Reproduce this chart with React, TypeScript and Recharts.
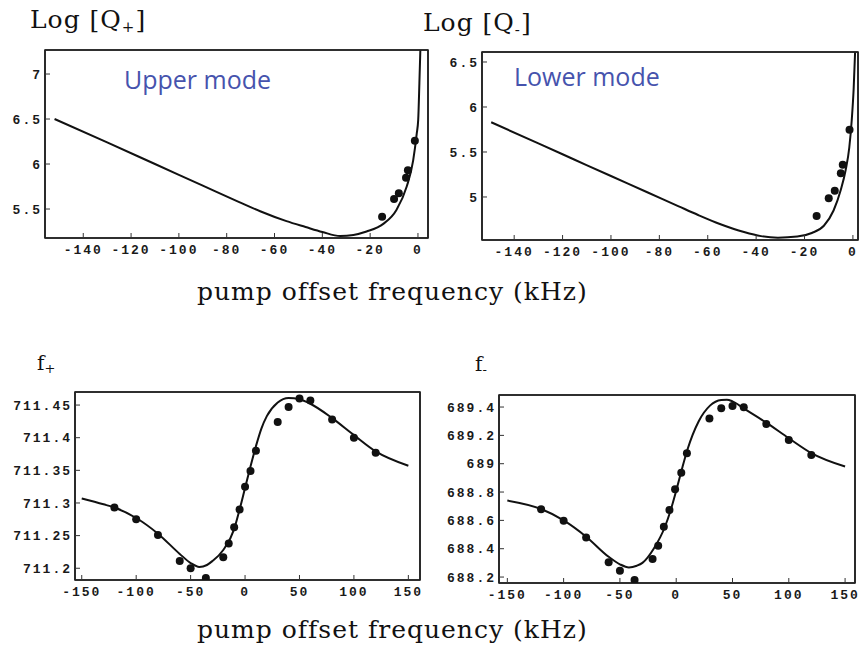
import { ComposedChart, Line, Scatter, XAxis, YAxis, ReferenceArea } from "recharts";

// ---- Log[Q+] (upper mode) ----
const QUP_X_TICKS = [-140, -120, -100, -80, -60, -40, -20, 0];
const QUP_Y_TICKS = [5.5, 6, 6.5, 7];
const QUP_FIT = [
  { x: -152, y: 6.5 }, { x: -130, y: 6.24 }, { x: -110, y: 6.0 }, { x: -90, y: 5.76 },
  { x: -75, y: 5.58 }, { x: -66, y: 5.475 }, { x: -55, y: 5.365 }, { x: -47, y: 5.3 },
  { x: -40, y: 5.245 }, { x: -32.5, y: 5.2 }, { x: -27, y: 5.212 }, { x: -21.5, y: 5.25 },
  { x: -14.5, y: 5.335 }, { x: -9, y: 5.49 }, { x: -4.7, y: 5.75 }, { x: -2, y: 6.04 },
  { x: -0.5, y: 6.34 }, { x: 0.1, y: 6.49 }, { x: 0.6, y: 6.9 }, { x: 1.0, y: 7.267 },
];
const QUP_PTS = [
  { x: -15, y: 5.414 }, { x: -10, y: 5.611 }, { x: -8, y: 5.674 },
  { x: -5, y: 5.848 }, { x: -4.2, y: 5.93 }, { x: -1.3, y: 6.258 },
];

// ---- Log[Q-] (lower mode) ----
const QLO_X_TICKS = [-140, -120, -100, -80, -60, -40, -20, 0];
const QLO_Y_TICKS = [5, 5.5, 6, 6.5];
const QLO_FIT = [
  { x: -149.5, y: 5.83 }, { x: -130, y: 5.595 }, { x: -115, y: 5.414 }, { x: -100, y: 5.233 },
  { x: -85, y: 5.053 }, { x: -72, y: 4.896 }, { x: -64, y: 4.8 }, { x: -55, y: 4.7 },
  { x: -45, y: 4.61 }, { x: -38, y: 4.565 }, { x: -31, y: 4.548 }, { x: -23, y: 4.56 },
  { x: -17, y: 4.6 }, { x: -12, y: 4.68 }, { x: -8, y: 4.85 }, { x: -5, y: 5.08 },
  { x: -3, y: 5.3 }, { x: -1.5, y: 5.55 }, { x: -0.5, y: 5.85 }, { x: 0.3, y: 6.2 },
  { x: 0.9, y: 6.61 },
];
const QLO_PTS = [
  { x: -15, y: 4.789 }, { x: -10, y: 4.986 }, { x: -7.5, y: 5.07 },
  { x: -5, y: 5.263 }, { x: -4.2, y: 5.359 }, { x: -1.4, y: 5.748 },
];

// ---- f+ ----
const FUP_X_TICKS = [-150, -100, -50, 0, 50, 100, 150];
const FUP_Y_TICKS = [711.2, 711.25, 711.3, 711.35, 711.4, 711.45];
const FUP_FIT = [
  { x: -150, y: 711.307 }, { x: -130, y: 711.298 }, { x: -120, y: 711.293 }, { x: -100, y: 711.277 },
  { x: -80, y: 711.253 }, { x: -60, y: 711.222 }, { x: -50, y: 711.208 }, { x: -42, y: 711.202 },
  { x: -35, y: 711.205 }, { x: -30, y: 711.211 }, { x: -20, y: 711.228 }, { x: -10, y: 711.26 },
  { x: -5, y: 711.29 }, { x: 0, y: 711.323 }, { x: 5, y: 711.356 }, { x: 10, y: 711.387 },
  { x: 15, y: 711.414 }, { x: 20, y: 711.433 }, { x: 30, y: 711.454 }, { x: 40, y: 711.461 },
  { x: 50, y: 711.459 }, { x: 60, y: 711.452 }, { x: 80, y: 711.43 }, { x: 100, y: 711.404 },
  { x: 120, y: 711.379 }, { x: 150, y: 711.357 },
];
const FUP_PTS = [
  { x: -120, y: 711.293 }, { x: -100, y: 711.275 }, { x: -80, y: 711.251 }, { x: -60, y: 711.211 },
  { x: -50, y: 711.2 }, { x: -36, y: 711.185 }, { x: -20, y: 711.217 }, { x: -15, y: 711.238 },
  { x: -10, y: 711.263 }, { x: -5, y: 711.29 }, { x: 0, y: 711.325 }, { x: 5, y: 711.349 },
  { x: 10, y: 711.38 }, { x: 30, y: 711.424 }, { x: 40, y: 711.447 }, { x: 50, y: 711.46 },
  { x: 60, y: 711.457 }, { x: 80, y: 711.428 }, { x: 100, y: 711.4 }, { x: 120, y: 711.377 },
];

// ---- f- ----
const FLO_X_TICKS = [-150, -100, -50, 0, 50, 100, 150];
const FLO_Y_TICKS = [688.2, 688.4, 688.6, 688.8, 689, 689.2, 689.4];
const FLO_FIT = [
  { x: -150, y: 688.74 }, { x: -120, y: 688.68 }, { x: -100, y: 688.6 }, { x: -80, y: 688.485 },
  { x: -60, y: 688.343 }, { x: -50, y: 688.29 }, { x: -42, y: 688.268 }, { x: -35, y: 688.28 },
  { x: -30, y: 688.3 }, { x: -20, y: 688.4 }, { x: -10, y: 688.555 }, { x: -5, y: 688.67 },
  { x: 0, y: 688.81 }, { x: 5, y: 688.96 }, { x: 10, y: 689.1 }, { x: 20, y: 689.3 },
  { x: 30, y: 689.41 }, { x: 40, y: 689.45 }, { x: 45, y: 689.452 }, { x: 50, y: 689.44 },
  { x: 60, y: 689.39 }, { x: 80, y: 689.29 }, { x: 100, y: 689.18 }, { x: 120, y: 689.075 },
  { x: 150, y: 688.98 },
];
const FLO_PTS = [
  { x: -120, y: 688.678 }, { x: -100, y: 688.598 }, { x: -80, y: 688.48 }, { x: -60, y: 688.304 },
  { x: -50, y: 688.245 }, { x: -37, y: 688.179 }, { x: -21, y: 688.327 }, { x: -16, y: 688.421 },
  { x: -11, y: 688.555 }, { x: -6, y: 688.673 }, { x: -1, y: 688.819 }, { x: 4.5, y: 688.936 },
  { x: 9.5, y: 689.073 }, { x: 29.5, y: 689.32 }, { x: 40, y: 689.391 }, { x: 50, y: 689.407 },
  { x: 60, y: 689.398 }, { x: 80, y: 689.28 }, { x: 100, y: 689.167 }, { x: 120, y: 689.061 },
];

// minor frame ticks (top and right edges)
const Q_MINOR_X = [
  -155, -150, -145, -140, -135, -130, -125, -120, -115, -110, -105, -100, -95, -90, -85, -80,
  -75, -70, -65, -60, -55, -50, -45, -40, -35, -30, -25, -20, -15, -10, -5, 0,
];
const QUP_MINOR_Y = [5.2, 5.3, 5.4, 5.5, 5.6, 5.7, 5.8, 5.9, 6, 6.1, 6.2, 6.3, 6.4, 6.5, 6.6, 6.7, 6.8, 6.9, 7, 7.1, 7.2];
const QLO_MINOR_Y = [4.6, 4.7, 4.8, 4.9, 5, 5.1, 5.2, 5.3, 5.4, 5.5, 5.6, 5.7, 5.8, 5.9, 6, 6.1, 6.2, 6.3, 6.4, 6.5, 6.6];
const F_MINOR_X = [
  -150, -140, -130, -120, -110, -100, -90, -80, -70, -60, -50, -40, -30, -20, -10, 0,
  10, 20, 30, 40, 50, 60, 70, 80, 90, 100, 110, 120, 130, 140, 150,
];
const FUP_MINOR_Y = [
  711.19, 711.2, 711.21, 711.22, 711.23, 711.24, 711.25, 711.26, 711.27, 711.28, 711.29, 711.3, 711.31, 711.32,
  711.33, 711.34, 711.35, 711.36, 711.37, 711.38, 711.39, 711.4, 711.41, 711.42, 711.43, 711.44, 711.45, 711.46,
];
const FLO_MINOR_Y = [
  688.2, 688.25, 688.3, 688.35, 688.4, 688.45, 688.5, 688.55, 688.6, 688.65, 688.7, 688.75, 688.8,
  688.85, 688.9, 688.95, 689, 689.05, 689.1, 689.15, 689.2, 689.25, 689.3, 689.35, 689.4, 689.45,
];

const TICK = {
  fontSize: 13,
  fontFamily: "Liberation Mono",
  fontWeight: 700,
  fill: "#1a1a1a",
  letterSpacing: 2,
};
const FRAME = { stroke: "#222", strokeWidth: 1.6 };
const TICKLINE = { stroke: "#333", strokeWidth: 1 };

type Pt = { x: number; y: number };
type PanelProps = {
  left: number; top: number; width: number; height: number;
  yWidth: number; mRight: number;
  xDomain: [number, number]; yDomain: [number, number];
  xTicks: number[]; yTicks: number[];
  xMinor: number[]; yMinor: number[];
  fit: Pt[]; pts: Pt[];
};

const Dot = (props: any) => <circle cx={props.cx} cy={props.cy} r={4} fill="#111" />;

function Panel(p: PanelProps) {
  return (
    <div style={{ position: "absolute", left: p.left, top: p.top }}>
      <ComposedChart width={p.width} height={p.height} margin={{ top: 10, right: p.mRight, bottom: 0, left: 0 }}>
        <XAxis dataKey="x" type="number" domain={p.xDomain} ticks={p.xTicks} allowDataOverflow interval={0}
          height={30} tick={TICK} tickSize={-5} tickMargin={12} tickLine={TICKLINE} axisLine={FRAME} />
        <XAxis xAxisId="top" dataKey="x" orientation="top" type="number" domain={p.xDomain} ticks={p.xMinor}
          allowDataOverflow interval={0} height={1} tick={false} tickSize={-3} tickLine={TICKLINE} axisLine={FRAME} />
        <YAxis dataKey="y" type="number" domain={p.yDomain} ticks={p.yTicks} allowDataOverflow interval={0}
          width={p.yWidth} tick={TICK} tickSize={-5} tickMargin={8} tickLine={TICKLINE} axisLine={FRAME} />
        <YAxis yAxisId="right" dataKey="y" orientation="right" type="number" domain={p.yDomain} ticks={p.yMinor}
          allowDataOverflow interval={0} width={1} tick={false} tickSize={-3} tickLine={TICKLINE} axisLine={FRAME} />
        <ReferenceArea x1={p.xDomain[0]} x2={p.xDomain[1]} y1={p.yDomain[0]} y2={p.yDomain[1]}
          fill="none" stroke="#222" strokeWidth={1.6} ifOverflow="visible" />
        {/* invisible series so the top/right frame axes get drawn */}
        <Line xAxisId="top" yAxisId="right" data={p.fit} dataKey="y" stroke="#fff" strokeOpacity={0}
          strokeWidth={0} dot={false} activeDot={false} legendType="none" isAnimationActive={false} />
        <Line data={p.fit} dataKey="y" type="monotone" stroke="#111" strokeWidth={2} dot={false}
          activeDot={false} isAnimationActive={false} />
        <Scatter data={p.pts} dataKey="y" shape={Dot} isAnimationActive={false} />
      </ComposedChart>
    </div>
  );
}

const SERIF = "'DejaVu Serif', serif";

export default function App() {
  return (
    <div style={{ position: "absolute", left: 0, top: 0, width: 861, height: 652, background: "#fff" }}>
      <Panel left={0} top={39} width={438} height={229} yWidth={45} mRight={9}
        xDomain={[-156, 4.2]} yDomain={[5.178, 7.267]} xTicks={QUP_X_TICKS} yTicks={QUP_Y_TICKS}
        xMinor={Q_MINOR_X} yMinor={QUP_MINOR_Y} fit={QUP_FIT} pts={QUP_PTS} />
      <Panel left={440} top={41} width={421} height={229} yWidth={42} mRight={2}
        xDomain={[-153.3, 2.1]} yDomain={[4.522, 6.611]} xTicks={QLO_X_TICKS} yTicks={QLO_Y_TICKS}
        xMinor={Q_MINOR_X} yMinor={QLO_MINOR_Y} fit={QLO_FIT} pts={QLO_PTS} />
      <Panel left={0} top={381} width={430} height={229} yWidth={75} mRight={9}
        xDomain={[-156.2, 160.7]} yDomain={[711.182, 711.47]} xTicks={FUP_X_TICKS} yTicks={FUP_Y_TICKS}
        xMinor={F_MINOR_X} yMinor={FUP_MINOR_Y} fit={FUP_FIT} pts={FUP_PTS} />
      <Panel left={440} top={384} width={421} height={229} yWidth={59} mRight={5}
        xDomain={[-157.4, 158.8]} yDomain={[688.158, 689.485]} xTicks={FLO_X_TICKS} yTicks={FLO_Y_TICKS}
        xMinor={F_MINOR_X} yMinor={FLO_MINOR_Y} fit={FLO_FIT} pts={FLO_PTS} />

      <svg width={861} height={652} style={{ position: "absolute", left: 0, top: 0, pointerEvents: "none" }}>
        <text x={30} y={28} fontFamily={SERIF} fontSize={25} letterSpacing={1} fill="#111">
          Log [Q<tspan fontSize={15} dy={4}>+</tspan><tspan dy={-4}>]</tspan>
        </text>
        <text x={423} y={31} fontFamily={SERIF} fontSize={25} letterSpacing={1} fill="#111">
          Log [Q<tspan fontSize={15} dy={4}>-</tspan><tspan dy={-4}>]</tspan>
        </text>
        <text x={124} y={89} fontFamily="'Open Sans', sans-serif" fontSize={25} fill="#4653ad">Upper mode</text>
        <text x={514} y={86} fontFamily="'Open Sans', sans-serif" fontSize={25} fill="#4653ad">Lower mode</text>
        <text x={197} y={300} fontFamily={SERIF} fontSize={25} letterSpacing={1} fill="#111">pump offset frequency (kHz)</text>
        <text x={37} y={370} fontFamily={SERIF} fontSize={20} fill="#111">
          f<tspan fontSize={13} dy={3}>+</tspan>
        </text>
        <text x={475} y={371} fontFamily={SERIF} fontSize={20} fill="#111">
          f<tspan fontSize={13} dy={3}>-</tspan>
        </text>
        <text x={197} y={638} fontFamily={SERIF} fontSize={25} letterSpacing={1} fill="#111">pump offset frequency (kHz)</text>
      </svg>
    </div>
  );
}
